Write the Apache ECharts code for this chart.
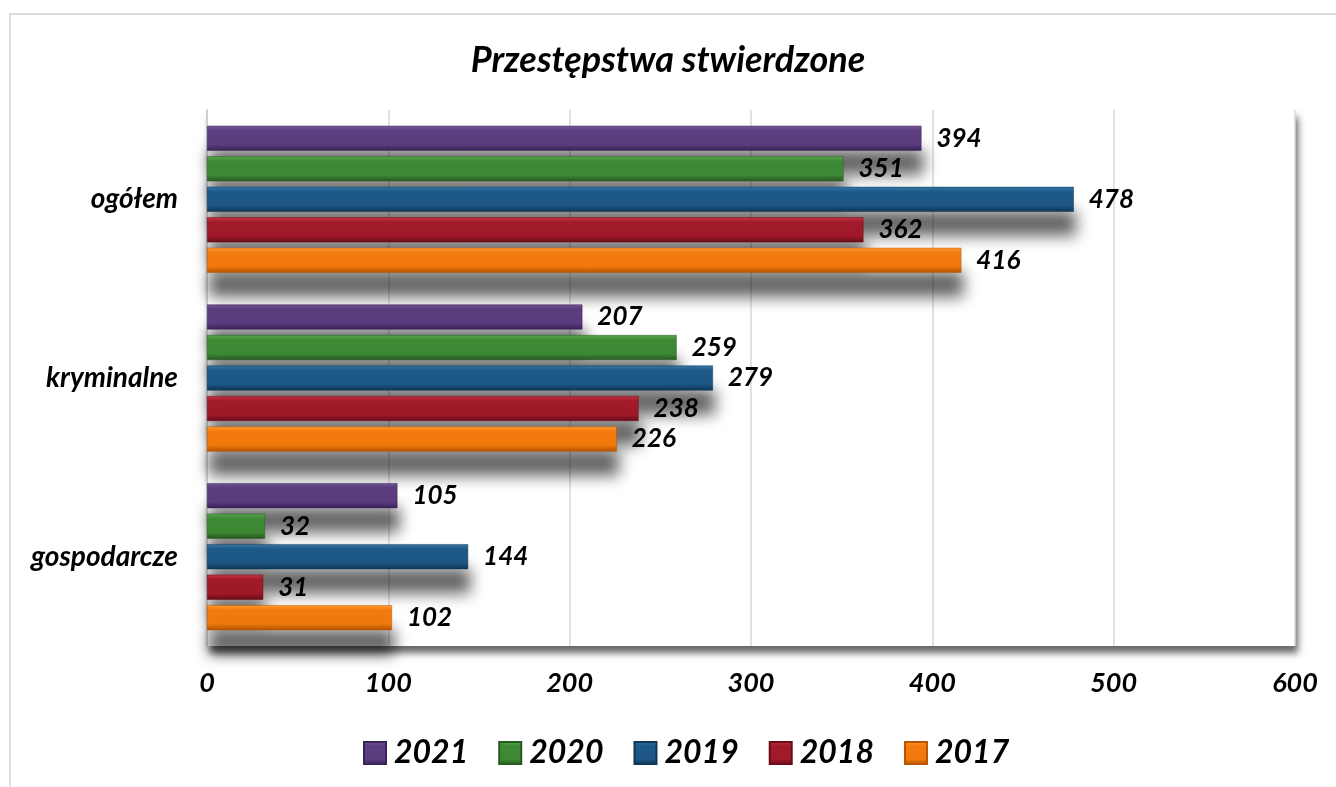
<!DOCTYPE html>
<html>
<head>
<meta charset="utf-8">
<title>Przestępstwa stwierdzone</title>
<script src="https://cdn.jsdelivr.net/npm/echarts@6/dist/echarts.min.js"></script>
<style>
  html, body { margin: 0; padding: 0; background: #fff; overflow: hidden; }
  #frame { position: absolute; left: 9px; top: 13px; width: 1400px; height: 900px; border: 2px solid #dcdcdc; }
  #main { position: absolute; left: 0; top: 0; width: 1336px; height: 787px; }
</style>
</head>
<body>
<div id="frame"></div>
<div id="main"></div>
<script>
// dane
var categories = ["ogółem", "kryminalne", "gospodarcze"];
var years = ["2021", "2020", "2019", "2018", "2017"];
var v2021 = [394, 207, 105];
var v2020 = [351, 259, 32];
var v2019 = [478, 279, 144];
var v2018 = [362, 238, 31];
var v2017 = [416, 226, 102];
var xTicks = [0, 100, 200, 300, 400, 500, 600];

var values = [v2021, v2020, v2019, v2018, v2017];
// kolory: jasny, główny, ciemny
var palette = [
  ["#7a5aa0", "#5b3d80", "#3a2256"],
  ["#5aa64e", "#3e8a34", "#275a20"],
  ["#3478a8", "#1d5886", "#0e3657"],
  ["#c63444", "#a11a2a", "#6b0d16"],
  ["#ff9a33", "#f27a0c", "#b85400"]
];

var font = "Lato, 'Open Sans', sans-serif";
var weight = "bold";

function grad(c) {
  return new echarts.graphic.LinearGradient(0, 0, 0, 1, [
    { offset: 0, color: c[0] },
    { offset: 0.2, color: c[1] },
    { offset: 0.75, color: c[1] },
    { offset: 1, color: c[2] }
  ]);
}

var series = years.map(function(y, i) {
  return {
    name: y,
    type: "bar",
    data: values[i],
    barWidth: 25,
    barGap: "22%",
    itemStyle: {
      color: grad(palette[i]),
      borderColor: palette[i][2],
      borderWidth: 0.5,
      shadowColor: "rgba(0,0,0,0.62)",
      shadowBlur: 15,
      shadowOffsetX: 2,
      shadowOffsetY: 24
    },
    label: {
      show: true,
      position: "right",
      distance: 15,
      color: "#000",
      fontFamily: font,
      fontSize: 26,
      fontWeight: weight,
      fontStyle: "italic"
    }
  };
});

var myChart = echarts.init(document.getElementById("main"));
var option = {
  animation: false,
  title: {
    text: "Przestępstwa stwierdzone",
    left: "center",
    top: 37,
    textStyle: {
      color: "#000",
      fontFamily: font,
      fontSize: 36,
      fontWeight: weight,
      fontStyle: "italic"
    }
  },
  legend: {
    left: 358,
    top: 732,
    itemWidth: 22,
    itemHeight: 22,
    itemGap: 30,
    icon: "rect",
    data: years,
    textStyle: {
      color: "#000",
      fontFamily: font,
      fontSize: 32,
      fontWeight: weight,
      fontStyle: "italic",
      padding: [0, 0, 0, 3]
    }
  },
  grid: {
    left: 207,
    right: 41,
    top: 110,
    bottom: 141,
    show: true,
    backgroundColor: "#fff",
    borderWidth: 0,
    shadowColor: "rgba(0,0,0,0.6)",
    shadowBlur: 7,
    shadowOffsetX: 3,
    shadowOffsetY: 7
  },
  xAxis: {
    type: "value",
    min: xTicks[0],
    max: xTicks[xTicks.length - 1],
    interval: 100,
    axisLine: { show: false },
    axisTick: { show: false },
    splitLine: { lineStyle: { color: "#d9d9d9", width: 1.5 } },
    axisLabel: {
      margin: 24,
      color: "#000",
      fontFamily: font,
      fontSize: 27,
      fontWeight: weight,
      fontStyle: "italic"
    }
  },
  yAxis: {
    type: "category",
    inverse: true,
    data: categories,
    axisLine: { show: true, lineStyle: { color: "#d0d0d0", width: 2 } },
    axisTick: { show: false },
    axisLabel: {
      margin: 29,
      color: "#000",
      fontFamily: font,
      fontSize: 28,
      fontWeight: weight,
      fontStyle: "italic"
    }
  },
  series: series
};
myChart.setOption(option);
</script>
</body>
</html>
